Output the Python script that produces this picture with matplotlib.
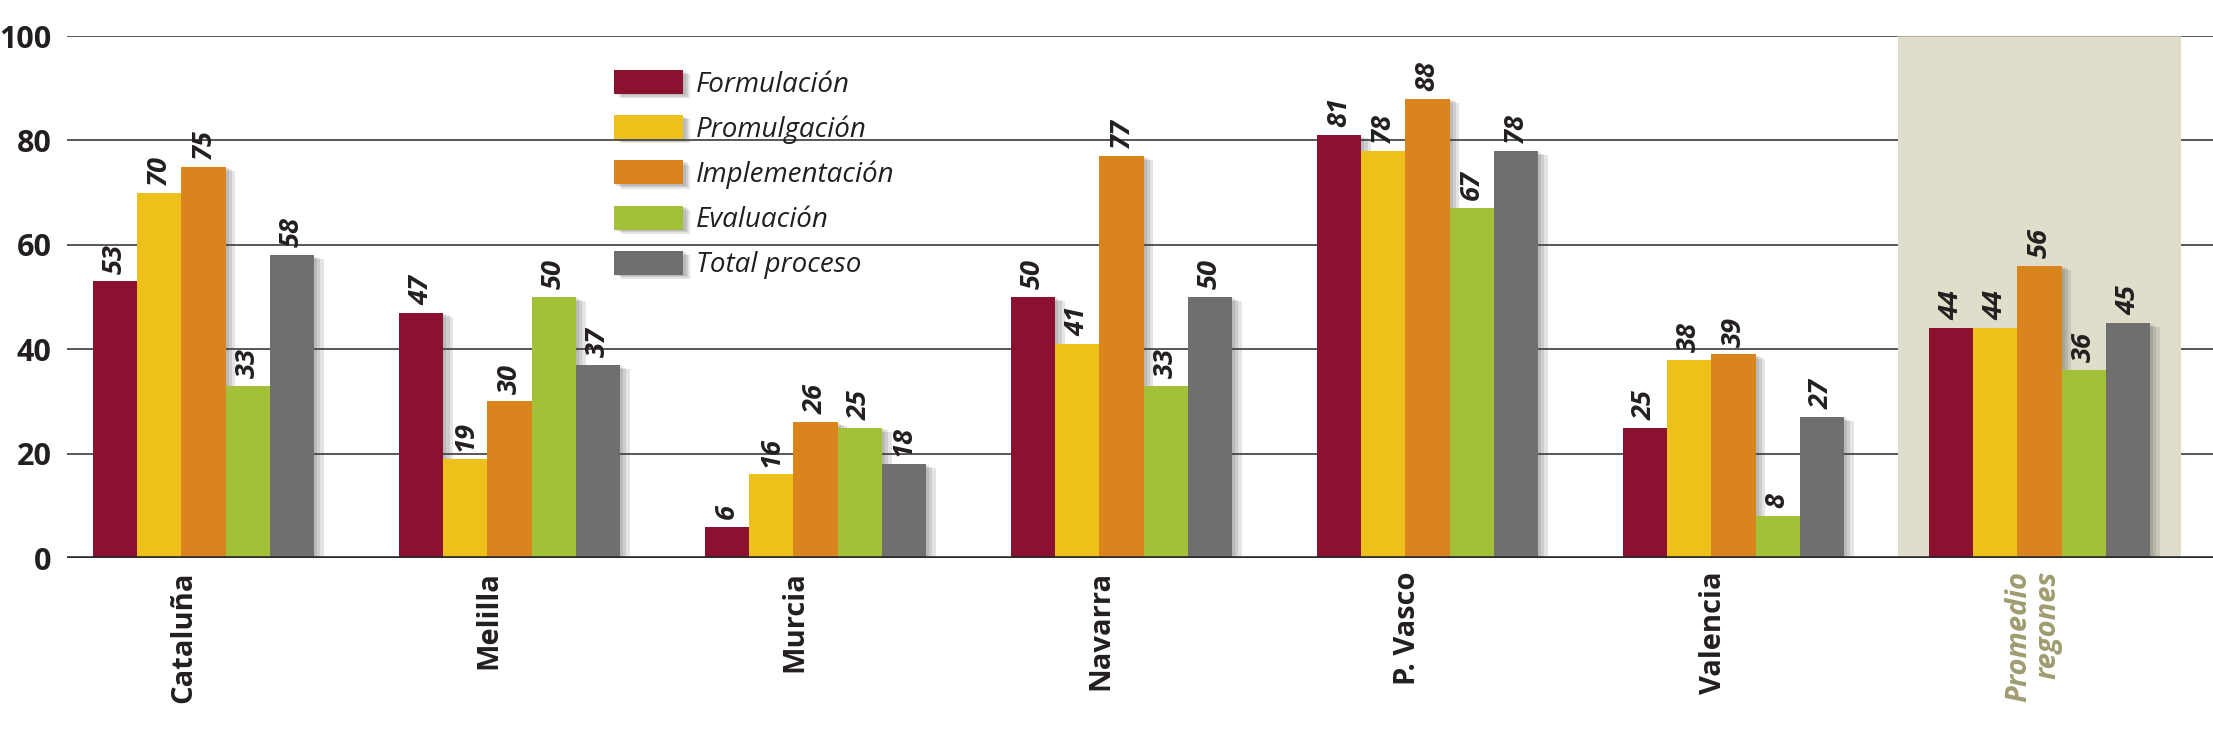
import numpy as np
import matplotlib
matplotlib.use('Agg')
from matplotlib import pyplot as plt
from matplotlib import patheffects
from matplotlib.patches import Patch, Rectangle

plt.rcParams['font.family'] = ['Open Sans', 'DejaVu Sans']

regions = ['Cataluña', 'Melilla', 'Murcia', 'Navarra', 'P. Vasco', 'Valencia', 'Promedio\nregones']
series = ['Formulación', 'Promulgación', 'Implementación', 'Evaluación', 'Total proceso']
formulacion = [53, 47, 6, 50, 81, 25, 44]
promulgacion = [70, 19, 16, 41, 78, 38, 44]
implementacion = [75, 30, 26, 77, 88, 39, 56]
evaluacion = [33, 50, 25, 33, 67, 8, 36]
total = [58, 37, 18, 50, 78, 27, 45]
values = [formulacion, promulgacion, implementacion, evaluacion, total]
colors = ['#8B1131', '#EDC11A', '#D9841D', '#A2C038', '#6F6F6F']

W, H = 2213, 738
fig = plt.figure(figsize=(W / 100, H / 100), dpi=100)
ax = fig.add_axes([67 / W, 1 - 558 / H, 1 - 67 / W, (558 - 36) / H])

x = np.arange(len(regions))
bw = 0.1445
ax.set_xlim(-0.446, 6.567)
ax.set_ylim(0, 100)

# grid lines
for yv in [20, 40, 60, 80, 100]:
    ax.axhline(yv, color='#4a4a4a', lw=1.3, zorder=0)

# shaded average block
ax.add_patch(Rectangle((x[-1] - 0.461, 0), 0.922, 100, facecolor='#E0DDCB', edgecolor='none', zorder=1))
ax.plot([x[-1] - 0.461, x[-1] + 0.461], [100, 100], color='#A9A89E', lw=1.3, zorder=1.5)

# soft-ish drop shadow, a few stacked layers
def soft_shadow(dx, dy):
    eff = []
    for f in (1.0, 0.66, 0.33):
        eff.append(patheffects.SimplePatchShadow(offset=(dx * f, dy * f), shadow_rgbFace='#444444', alpha=0.14))
    eff.append(patheffects.Normal())
    return eff

shadow = soft_shadow(7, -3)

for k, (vals, col) in enumerate(zip(values, colors)):
    xs = x + (k - 2) * bw
    bars = ax.bar(xs, vals, width=bw, color=col, zorder=2 + k * 0.01, linewidth=0)
    for b in bars:
        b.set_path_effects(shadow)
    for xi, v in zip(xs, vals):
        ax.text(xi, v + 1.5, str(v), rotation=90, ha='center', va='bottom',
                fontsize=19.5, fontweight='bold', fontstyle='italic', color='#231F20', zorder=5)

ax.axhline(0, color='#2b2b2b', lw=2.6, zorder=6)

ax.set_yticks([0, 20, 40, 60, 80, 100])
ax.tick_params(axis='y', length=0, pad=11, labelsize=22, labelcolor='#231F20')
for t in ax.get_yticklabels():
    t.set_fontweight('bold')
ax.set_xticks([])
for s in ax.spines.values():
    s.set_visible(False)

# category labels
for i, name in enumerate(regions):
    if i < len(regions) - 1:
        ax.text(x[i] - 0.066, -2.5, name, rotation=90, ha='center', va='top',
                fontsize=21, fontweight='bold', color='#231F20')
    else:
        ax.text(x[i] - 0.02, -2.5, name, rotation=90, ha='center', va='top', multialignment='right',
                fontsize=21, fontweight='bold', fontstyle='italic', color='#A09C70', linespacing=1.0)

handles = [Patch(facecolor=c, edgecolor='none', label=s) for c, s in zip(colors, series)]
leg = fig.legend(handles=handles, loc='upper left', bbox_to_anchor=(614 / W, 1 - 70 / H),
                 frameon=False, fontsize=20, handlelength=2.5, handleheight=0.95,
                 handletextpad=0.45, labelspacing=0.6, borderpad=0, borderaxespad=0)
for t in leg.get_texts():
    t.set_fontstyle('italic')
    t.set_color('#231F20')
for p in leg.get_patches():
    p.set_path_effects(soft_shadow(5, -3))

fig.savefig('out.png', dpi=100)
